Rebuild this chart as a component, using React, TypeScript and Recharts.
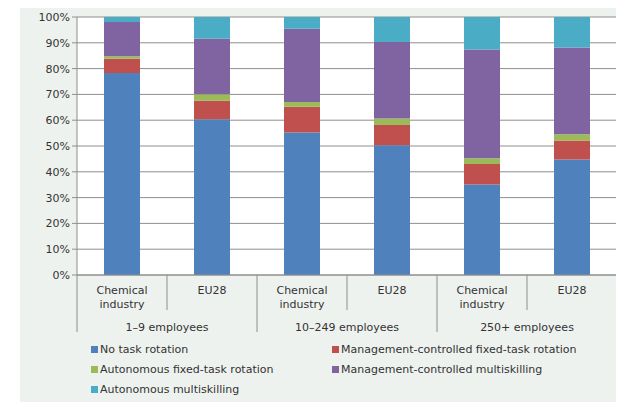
import { BarChart, Bar, XAxis, YAxis, CartesianGrid } from "recharts";

const GROUPS = ["1–9 employees", "10–249 employees", "250+ employees"];
const ENTITIES = ["Chemical industry", "EU28"];

const SERIES = [
  { key: "noRotation", name: "No task rotation", color: "#4F81BD" },
  { key: "mgmtFixed", name: "Management-controlled fixed-task rotation", color: "#C0504D" },
  { key: "autoFixed", name: "Autonomous fixed-task rotation", color: "#9BBB59" },
  { key: "mgmtMulti", name: "Management-controlled multiskilling", color: "#8064A2" },
  { key: "autoMulti", name: "Autonomous multiskilling", color: "#4BACC6" },
];

// one value per bar: chem 1-9, EU28 1-9, chem 10-249, EU28 10-249, chem 250+, EU28 250+
const NO_ROTATION = [78.3, 60.4, 55.2, 50.3, 35.1, 44.8];
const MGMT_FIXED = [5.5, 7.1, 10.0, 7.8, 7.9, 7.3];
const AUTO_FIXED = [1.0, 2.6, 1.9, 2.6, 2.3, 2.5];
const MGMT_MULTI = [13.3, 21.5, 28.3, 29.6, 42.1, 33.6];
const AUTO_MULTI = [1.9, 8.4, 4.6, 9.7, 12.6, 11.8];

const Y_TICKS = [0, 10, 20, 30, 40, 50, 60, 70, 80, 90, 100];

const data = GROUPS.flatMap((g, gi) =>
  ENTITIES.map((e, ei) => {
    const i = gi * ENTITIES.length + ei;
    return {
      id: `${g}|${e}`,
      group: g,
      entity: e,
      noRotation: NO_ROTATION[i],
      mgmtFixed: MGMT_FIXED[i],
      autoFixed: AUTO_FIXED[i],
      mgmtMulti: MGMT_MULTI[i],
      autoMulti: AUTO_MULTI[i],
    };
  })
);

const W = 624;
const H = 410;
const MARGIN = { top: 17, right: 7, bottom: 0, left: 17 };
const Y_W = 60;
const X_H = 135;
const HALF_BAND = (W - MARGIN.left - MARGIN.right - Y_W) / data.length / 2;
const FONT = "'DejaVu Sans', Verdana, sans-serif";
const GRID = "#8e8e8e";
const TEXT = "#333";

function CategoryTick(props: any) {
  const { x, y, payload } = props;
  const row = data[payload.index];
  const first = payload.index % ENTITIES.length === 0;
  const last = payload.index === data.length - 1;
  const lines = row.entity === "Chemical industry" ? ["Chemical", "industry"] : [row.entity];
  return (
    <g>
      {lines.map((l, k) => (
        <text key={k} x={x} y={y + 19 + k * 13.5} textAnchor="middle" fill={TEXT} fontSize={11} fontFamily={FONT}>
          {l}
        </text>
      ))}
      <line x1={x - HALF_BAND} x2={x - HALF_BAND} y1={y} y2={first ? y + 57 : y + 35} stroke={GRID} />
      {last && <line x1={x + HALF_BAND} x2={x + HALF_BAND} y1={y} y2={y + 57} stroke={GRID} />}
      {first && (
        <text x={x + HALF_BAND} y={y + 56} textAnchor="middle" fill={TEXT} fontSize={11} fontFamily={FONT}>
          {row.group}
        </text>
      )}
    </g>
  );
}

export default function App() {
  return (
    <div style={{ position: "relative", width: W, height: H, margin: -8, overflow: "hidden" }}>
      <div style={{ position: "absolute", left: 20, top: 4, right: 0, bottom: 0, background: "#eef2ee" }} />
      <div style={{ position: "absolute", left: 0, top: 0 }}>
        <BarChart width={W} height={H} data={data} margin={MARGIN} barCategoryGap="30%">
          <CartesianGrid vertical={false} stroke={GRID} fill="#ffffff" />
          <XAxis
            dataKey="id"
            height={X_H}
            interval={0}
            tickSize={0}
            tickMargin={0}
            tick={<CategoryTick />}
            axisLine={{ stroke: GRID }}
            tickLine={false}
          />
          <YAxis
            width={Y_W}
            domain={[0, 100]}
            ticks={Y_TICKS}
            tickFormatter={(v) => `${v}%`}
            axisLine={{ stroke: GRID }}
            tickLine={{ stroke: GRID }}
            tickSize={5}
            tick={{ fill: TEXT, fontSize: 11, fontFamily: FONT }}
          />
          {SERIES.map((s) => (
            <Bar key={s.key} dataKey={s.key} name={s.name} stackId="a" fill={s.color} isAnimationActive={false} />
          ))}
        </BarChart>
      </div>
      {SERIES.map((s, i) => (
        <div
          key={s.key}
          style={{
            position: "absolute",
            left: i % 2 === 0 ? 91 : 332,
            top: 341 + Math.floor(i / 2) * 20,
            height: 16,
            display: "flex",
            alignItems: "center",
            fontFamily: FONT,
            fontSize: 11,
            color: TEXT,
            whiteSpace: "nowrap",
          }}
        >
          <span style={{ width: 7, height: 7, background: s.color, marginRight: 2, display: "inline-block" }} />
          {s.name}
        </div>
      ))}
    </div>
  );
}
